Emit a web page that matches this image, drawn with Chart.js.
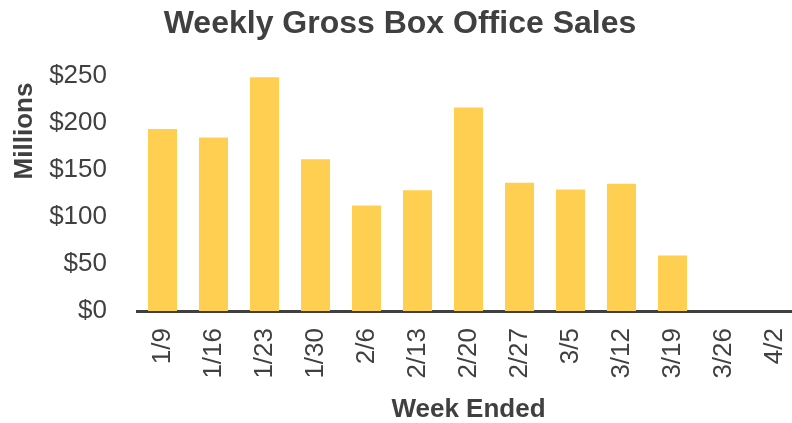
<!DOCTYPE html>
<html>
<head>
<meta charset="utf-8">
<script src="https://cdn.jsdelivr.net/npm/chart.js@4/dist/chart.umd.min.js"></script>
<style>
    html, body { margin: 0; padding: 0; background: #fff; overflow: hidden; }
    #wrap { width: 800px; height: 423px; position: relative; }
</style>
</head>
<body>
<div id="wrap"><canvas id="boxOffice"></canvas></div>
<script>
// Weekly gross, millions of dollars
const weeks = ['1/9', '1/16', '1/23', '1/30', '2/6', '2/13', '2/20', '2/27', '3/5', '3/12', '3/19', '3/26', '4/2'];
const grossSales = [193, 184, 248, 161, 112, 128, 216, 136, 129, 135, 59, 0, 0];
const yTicks = [0, 50, 100, 150, 200, 250];

const textColor = '#404040';
const barColor = '#FFCF52';
const fontFamily = '"Liberation Sans", Arial, sans-serif';

Chart.defaults.font.family = fontFamily;
Chart.defaults.color = textColor;

new Chart(document.getElementById('boxOffice'), {
    type: 'bar',
    data: {
        labels: weeks,
        datasets: [{
            data: grossSales,
            backgroundColor: barColor,
            borderWidth: 0,
            barPercentage: 0.57,
            categoryPercentage: 1.0
        }]
    },
    options: {
        responsive: true,
        maintainAspectRatio: false,
        animation: false,
        layout: { padding: 0 },
        plugins: {
            legend: { display: false },
            tooltip: { enabled: false },
            title: {
                display: true,
                text: 'Weekly Gross Box Office Sales',
                color: textColor,
                font: { size: 32, weight: 'bold' },
                padding: { top: 5, bottom: 32 }
            }
        },
        scales: {
            x: {
                grid: { display: false },
                border: { display: true, color: textColor, width: 3 },
                afterFit: scale => {
                    scale.height = 112;
                    scale.paddingLeft = 0;
                    scale.paddingRight = 0;
                },
                ticks: {
                    color: textColor,
                    font: { size: 26 },
                    minRotation: 90,
                    maxRotation: 90,
                    padding: 9,
                    autoSkip: false
                },
                title: {
                    display: true,
                    text: 'Week Ended',
                    color: textColor,
                    font: { size: 26, weight: 'bold' },
                    padding: { top: 0, bottom: -2 }
                }
            },
            y: {
                min: 0,
                max: 250,
                grid: { display: false },
                border: { display: false },
                afterFit: scale => { scale.width = 137; },
                afterBuildTicks: scale => {
                    scale.ticks = yTicks.map(v => ({ value: v }));
                },
                ticks: {
                    color: textColor,
                    font: { size: 26 },
                    padding: 22,
                    callback: value => '$' + value
                },
                title: {
                    display: true,
                    text: 'Millions ',
                    align: 'end',
                    color: textColor,
                    font: { size: 26, weight: 'bold' },
                    padding: { top: 9, bottom: 0 }
                }
            }
        }
    }
});
</script>
</body>
</html>
